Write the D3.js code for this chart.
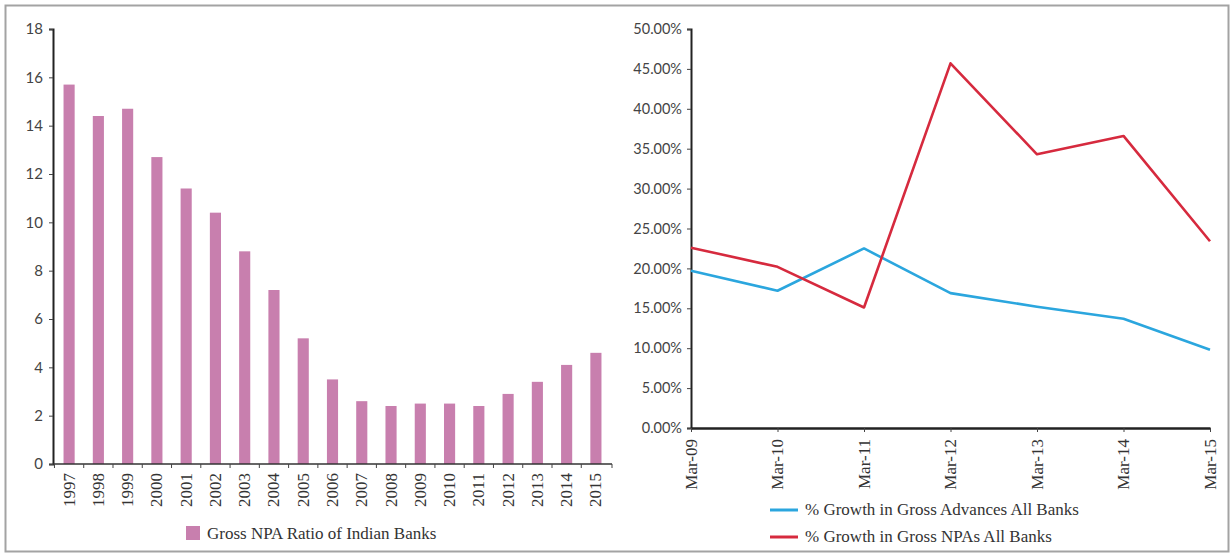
<!DOCTYPE html>
<html>
<head>
<meta charset="utf-8">
<script src="https://cdn.jsdelivr.net/npm/d3@7/dist/d3.min.js"></script>
<style>
  html, body { margin: 0; padding: 0; background: #fff; }
  svg { display: block; }
  .serif { font-family: "Liberation Serif", "Times New Roman", serif; }
  .sans { font-family: Lato, "Open Sans", sans-serif; }
</style>
</head>
<body>
<svg id="chart" width="1230" height="554"></svg>
<script>
// Gross NPA ratio of Indian banks, by year (%)
const years = ["1997","1998","1999","2000","2001","2002","2003","2004","2005","2006",
               "2007","2008","2009","2010","2011","2012","2013","2014","2015"];
const npaRatio = [15.7, 14.4, 14.7, 12.7, 11.4, 10.4, 8.8, 7.2, 5.2, 3.5,
                  2.6, 2.4, 2.5, 2.5, 2.4, 2.9, 3.4, 4.1, 4.6];
const npaTicks = [0, 2, 4, 6, 8, 10, 12, 14, 16, 18];

// Year-on-year growth, all banks (fractions)
const periods = ["Mar-09","Mar-10","Mar-11","Mar-12","Mar-13","Mar-14","Mar-15"];
const advancesGrowth = [0.197, 0.172, 0.225, 0.169, 0.152, 0.137, 0.098];
const npaGrowth      = [0.226, 0.202, 0.151, 0.457, 0.343, 0.366, 0.234];
const growthTicks = [0, 0.05, 0.10, 0.15, 0.20, 0.25, 0.30, 0.35, 0.40, 0.45, 0.50];

const seriesNames = ["% Growth in Gross Advances All Banks", "% Growth in Gross NPAs All Banks"];
const barLegend = "Gross NPA Ratio of Indian Banks";

const barColor = "#c87fae";
const lineColors = ["#2ba6de", "#d62a3e"];
const labelSize = 17;

const svg = d3.select("#chart");

// outer frame
svg.append("rect")
  .attr("x", 5.5).attr("y", 5.5).attr("width", 1223).attr("height", 546)
  .attr("fill", "none").attr("stroke", "#a3a3a3").attr("stroke-width", 2);

/* ---------- left panel: bar chart ---------- */
const L = { left: 53, right: 612, top: 29, bottom: 464 };
const xb = d3.scaleBand().domain(years).range([L.left, L.right]).paddingInner(0.62).paddingOuter(0.36);
const yb = d3.scaleLinear().domain([0, 18]).range([L.bottom, L.top]);

const gl = svg.append("g");

gl.selectAll("rect.bar").data(npaRatio).join("rect")
  .attr("class", "bar")
  .attr("x", (d, i) => xb(years[i]))
  .attr("y", d => yb(d))
  .attr("width", xb.bandwidth())
  .attr("height", d => yb(0) - yb(d))
  .attr("fill", barColor);

// y axis
const yAxisL = gl.append("g").attr("transform", `translate(${L.left},0)`)
  .call(d3.axisLeft(yb).tickValues(npaTicks).tickSize(4).tickPadding(6).tickFormat(d3.format("d")));
yAxisL.select(".domain").attr("stroke", "#222").attr("stroke-width", 2);
yAxisL.selectAll(".tick line").attr("stroke", "#444");
yAxisL.selectAll("text").attr("class", "sans").attr("font-size", 15).attr("fill", "#444");

// x axis: ticks at band boundaries
const xBoundaries = years.map(y => xb(y) - xb.step() * xb.paddingInner() / 2);
xBoundaries.push(L.right);
const xAxisL = gl.append("g").attr("transform", `translate(0,${L.bottom})`);
xAxisL.append("line").attr("x1", L.left).attr("x2", L.right)
  .attr("stroke", "#333").attr("stroke-width", 1.3);
xAxisL.selectAll("line.tk").data(xBoundaries).join("line")
  .attr("class", "tk").attr("x1", d => d).attr("x2", d => d)
  .attr("y1", 0).attr("y2", 4).attr("stroke", "#444");
xAxisL.selectAll("text.lbl").data(years).join("text")
  .attr("class", "serif lbl")
  .attr("font-size", labelSize).attr("fill", "#333")
  .attr("text-anchor", "end")
  .attr("transform", d => `translate(${xb(d) + xb.bandwidth() / 2 + 5.5},9) rotate(-90)`)
  .text(d => d);

// legend
gl.append("rect").attr("x", 186).attr("y", 526).attr("width", 14).attr("height", 14).attr("fill", barColor);
gl.append("text").attr("class", "serif").attr("x", 207).attr("y", 539)
  .attr("font-size", labelSize).attr("fill", "#333").text(barLegend);

/* ---------- right panel: line chart ---------- */
const R = { left: 691, right: 1210, top: 29, bottom: 428 };
const xp = d3.scalePoint().domain(periods).range([R.left, R.right]);
const yp = d3.scaleLinear().domain([0, 0.5]).range([R.bottom, R.top]);

const gr = svg.append("g");

const yAxisR = gr.append("g").attr("transform", `translate(${R.left},0)`)
  .call(d3.axisLeft(yp).tickValues(growthTicks).tickSize(4).tickPadding(5).tickFormat(d3.format(".2%")));
yAxisR.select(".domain").attr("stroke", "#222").attr("stroke-width", 2);
yAxisR.selectAll(".tick line").attr("stroke", "#444");
yAxisR.selectAll("text").attr("class", "sans").attr("font-size", 14.5).attr("fill", "#444");

const xAxisR = gr.append("g").attr("transform", `translate(0,${R.bottom})`)
  .call(d3.axisBottom(xp).tickSize(4).tickSizeOuter(0).tickFormat(""));
xAxisR.select(".domain").attr("stroke", "#222").attr("stroke-width", 2.5);
xAxisR.selectAll(".tick line").attr("stroke", "#444");
xAxisR.selectAll("text.lbl").data(periods).join("text")
  .attr("class", "serif lbl")
  .attr("font-size", labelSize).attr("fill", "#333")
  .attr("text-anchor", "end")
  .attr("transform", d => `translate(${xp(d) + 5.5},11) rotate(-90)`)
  .text(d => d);

const line = d3.line().x((d, i) => xp(periods[i])).y(d => yp(d));
[advancesGrowth, npaGrowth].forEach((vals, k) => {
  gr.append("path").datum(vals)
    .attr("d", line)
    .attr("fill", "none")
    .attr("stroke", lineColors[k])
    .attr("stroke-width", 2.6)
    .attr("stroke-linejoin", "round");
});

// legend
seriesNames.forEach((name, k) => {
  const yy = 510 + k * 27;
  gr.append("line").attr("x1", 770).attr("x2", 798).attr("y1", yy).attr("y2", yy)
    .attr("stroke", lineColors[k]).attr("stroke-width", 3);
  gr.append("text").attr("class", "serif").attr("x", 805).attr("y", yy + 5)
    .attr("font-size", labelSize).attr("fill", "#333").text(name);
});
</script>
</body>
</html>
